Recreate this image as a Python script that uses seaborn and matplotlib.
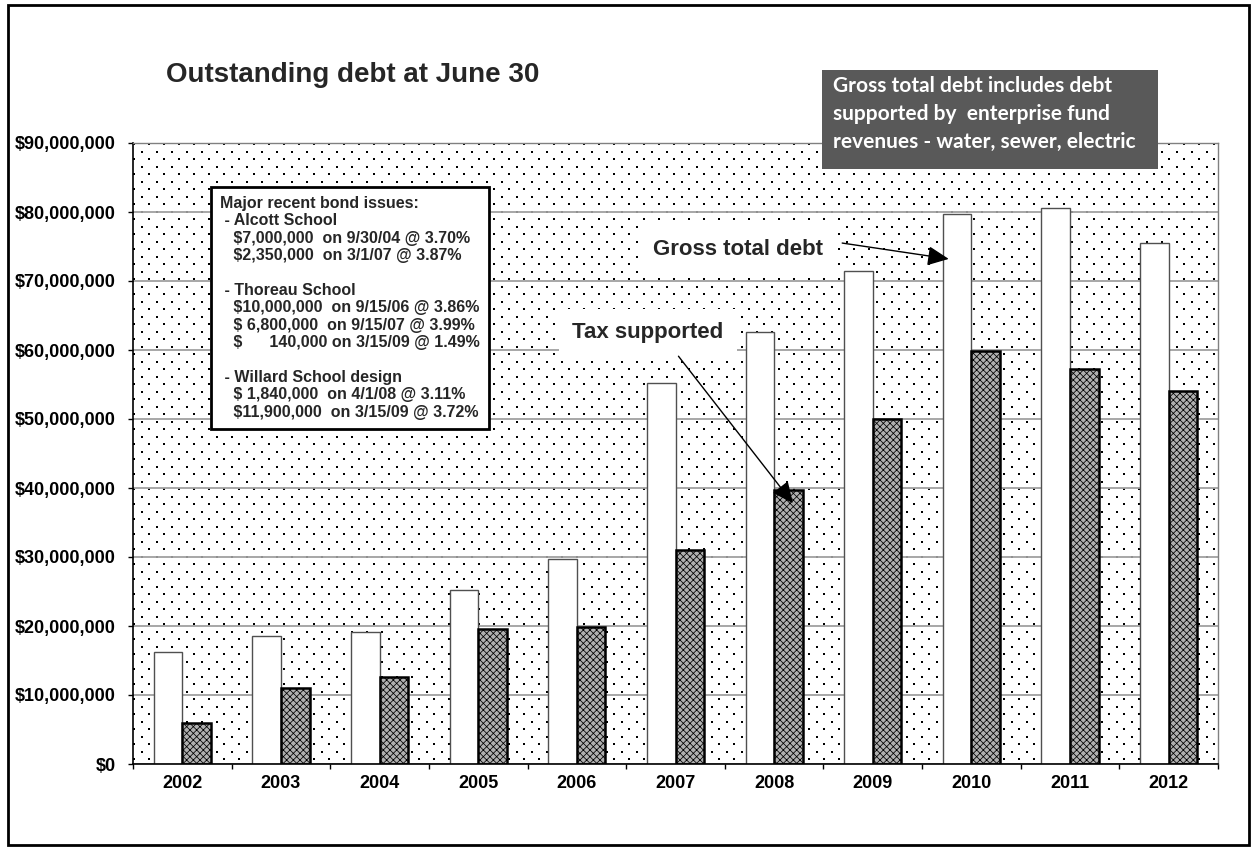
import numpy as np
import pandas as pd
import matplotlib
matplotlib.use("Agg")
import matplotlib.pyplot as plt
from matplotlib.patches import Rectangle
from matplotlib.ticker import FuncFormatter, MultipleLocator
import seaborn as sns

# ---- data -------------------------------------------------------------
years = ["2002", "2003", "2004", "2005", "2006", "2007",
         "2008", "2009", "2010", "2011", "2012"]
gross_total_debt = [16.2e6, 18.5e6, 19.1e6, 25.2e6, 29.7e6, 55.2e6,
                    62.6e6, 71.4e6, 79.7e6, 80.6e6, 75.5e6]
tax_supported_debt = [5.9e6, 11.0e6, 12.6e6, 19.5e6, 19.8e6, 31.0e6,
                      39.7e6, 50.0e6, 59.9e6, 57.2e6, 54.0e6]
series_names = ["Gross total debt", "Tax supported"]

title_text = "Outstanding debt at June 30"
bond_note = (
    "Major recent bond issues:\n"
    " - Alcott School\n"
    "   $7,000,000  on 9/30/04 @ 3.70%\n"
    "   $2,350,000  on 3/1/07 @ 3.87%\n"
    "\n"
    " - Thoreau School\n"
    "   $10,000,000  on 9/15/06 @ 3.86%\n"
    "   $ 6,800,000  on 9/15/07 @ 3.99%\n"
    "   $      140,000 on 3/15/09 @ 1.49%\n"
    "\n"
    " - Willard School design\n"
    "   $ 1,840,000  on 4/1/08 @ 3.11%\n"
    "   $11,900,000  on 3/15/09 @ 3.72%"
)
enterprise_note = ("Gross total debt includes debt\n"
                   "supported by  enterprise fund\n"
                   "revenues - water, sewer, electric")

# ---- style ------------------------------------------------------------
sns.set_style("white")
plt.rcParams["font.family"] = ["Liberation Sans", "DejaVu Sans"]
plt.rcParams["hatch.linewidth"] = 0.55

W, H = 1254, 847
fig = plt.figure(figsize=(W / 100, H / 100), dpi=100)
fig.patch.set_facecolor("white")


def fx(px):
    return px / W


def fy(py):
    return 1 - py / H


# plot area in pixels
L, T, R, B = 133, 143, 1218, 764
ax = fig.add_axes([fx(L), fy(B), (R - L) / W, (B - T) / H])
ax.patch.set_visible(False)

# dotted plot-area fill, painted beneath the axes
pw, ph = R - L, B - T
yy, xx = np.mgrid[0:ph, 0:pw]
dots = (((xx % 15) < 2) & ((yy % 15) < 2)) | \
       ((((xx + 7) % 15) < 2) & (((yy + 7) % 15) < 2))
texture = np.ones((ph, pw, 3))
texture[dots] = 0.0
fig.figimage(texture, xo=L, yo=H - B, zorder=-1, origin="upper")

# ---- bars -------------------------------------------------------------
df = pd.DataFrame({
    "year": years * 2,
    "series": [series_names[0]] * len(years) + [series_names[1]] * len(years),
    "debt": gross_total_debt + tax_supported_debt,
})
sns.barplot(data=df, x="year", y="debt", hue="series",
            hue_order=series_names,
            palette={series_names[0]: "white", series_names[1]: "#b0b0b0"},
            width=0.58, gap=0, legend=False, saturation=1, ax=ax)

for bar in ax.containers[0]:
    bar.set_edgecolor("#505050")
    bar.set_linewidth(1.0)
for bar in ax.containers[1]:
    bar.set_edgecolor("black")
    bar.set_linewidth(1.8)
    bar.set_hatch("xxxxx")

# ---- axes -------------------------------------------------------------
ax.set_xlim(-0.5, len(years) - 0.5)
ax.set_ylim(0, 90e6)
ax.yaxis.set_major_locator(MultipleLocator(10e6))
ax.yaxis.set_major_formatter(FuncFormatter(lambda v, _: f"${v:,.0f}"))
ax.set_xlabel("")
ax.set_ylabel("")
ax.set_axisbelow(True)
ax.yaxis.grid(True, color="#a0a0a0", linewidth=1.3)
ax.xaxis.grid(False)

ax.set_xticks(np.arange(-0.5, len(years), 1.0), minor=True)
ax.tick_params(axis="x", which="major", length=0, pad=8,
               labelsize=13)
ax.tick_params(axis="x", which="minor", length=3.6, width=1.0,
               color="black", direction="out", bottom=True)
ax.tick_params(axis="y", which="major", length=3.6, width=1.0,
               color="black", direction="out", left=True, pad=9,
               labelsize=13)
for lab in ax.get_xticklabels() + ax.get_yticklabels():
    lab.set_fontweight("bold")
    lab.set_color("black")

for side in ("left", "bottom"):
    ax.spines[side].set_color("black")
    ax.spines[side].set_linewidth(1.2)
for side in ("top", "right"):
    ax.spines[side].set_color("#808080")
    ax.spines[side].set_linewidth(1.0)

# ---- annotations --------------------------------------------------------
arrow_style = dict(arrowstyle="-|>,head_length=0.65,head_width=0.3",
                   mutation_scale=20, color="black", lw=1.0,
                   shrinkA=0, shrinkB=0)

ax.text(5.63, 74.6e6, "Gross total debt", ha="center", va="center",
        fontsize=16, fontweight="bold", zorder=6,
        bbox=dict(boxstyle="square,pad=0.6", fc="white", ec="none"))
ax.annotate("", xy=(7.77, 73.2e6), xytext=(6.69, 75.5e6), zorder=7,
            arrowprops=arrow_style)

ax.text(4.72, 62.5e6, "Tax supported", ha="center", va="center",
        fontsize=16, fontweight="bold", zorder=6,
        bbox=dict(boxstyle="square,pad=0.6", fc="white", ec="none"))
ax.annotate("", xy=(6.19, 37.8e6), xytext=(5.03, 59.1e6), zorder=7,
            arrowprops=arrow_style)

# title
fig.text(fx(166), fy(82), title_text, ha="left", va="baseline",
         fontsize=20, fontweight="bold")

# bond issue box
fig.text(fx(220), fy(196), bond_note, ha="left", va="top",
         fontsize=11.5, fontweight="bold", parse_math=False, zorder=5,
         linespacing=1.2,
         bbox=dict(boxstyle="square,pad=0.55", fc="white", ec="black",
                   lw=2.0))

# enterprise-fund note box
fig.patches.append(Rectangle((fx(822), fy(169)), (1158 - 822) / W,
                             (169 - 70) / H, transform=fig.transFigure,
                             facecolor="#595959", edgecolor="none",
                             zorder=4))
fig.text(fx(833), fy(114), enterprise_note, ha="left", va="center",
         fontsize=15, fontweight="bold", color="white",
         family=["Lato", "DejaVu Sans"], linespacing=1.5, zorder=5)

# outer frame
fig.patches.append(Rectangle((fx(8), fy(845)), (1249 - 8) / W,
                             (845 - 5) / H, transform=fig.transFigure,
                             fill=False, edgecolor="black", lw=2.0,
                             zorder=10))

fig.savefig("out.png", dpi=100)
